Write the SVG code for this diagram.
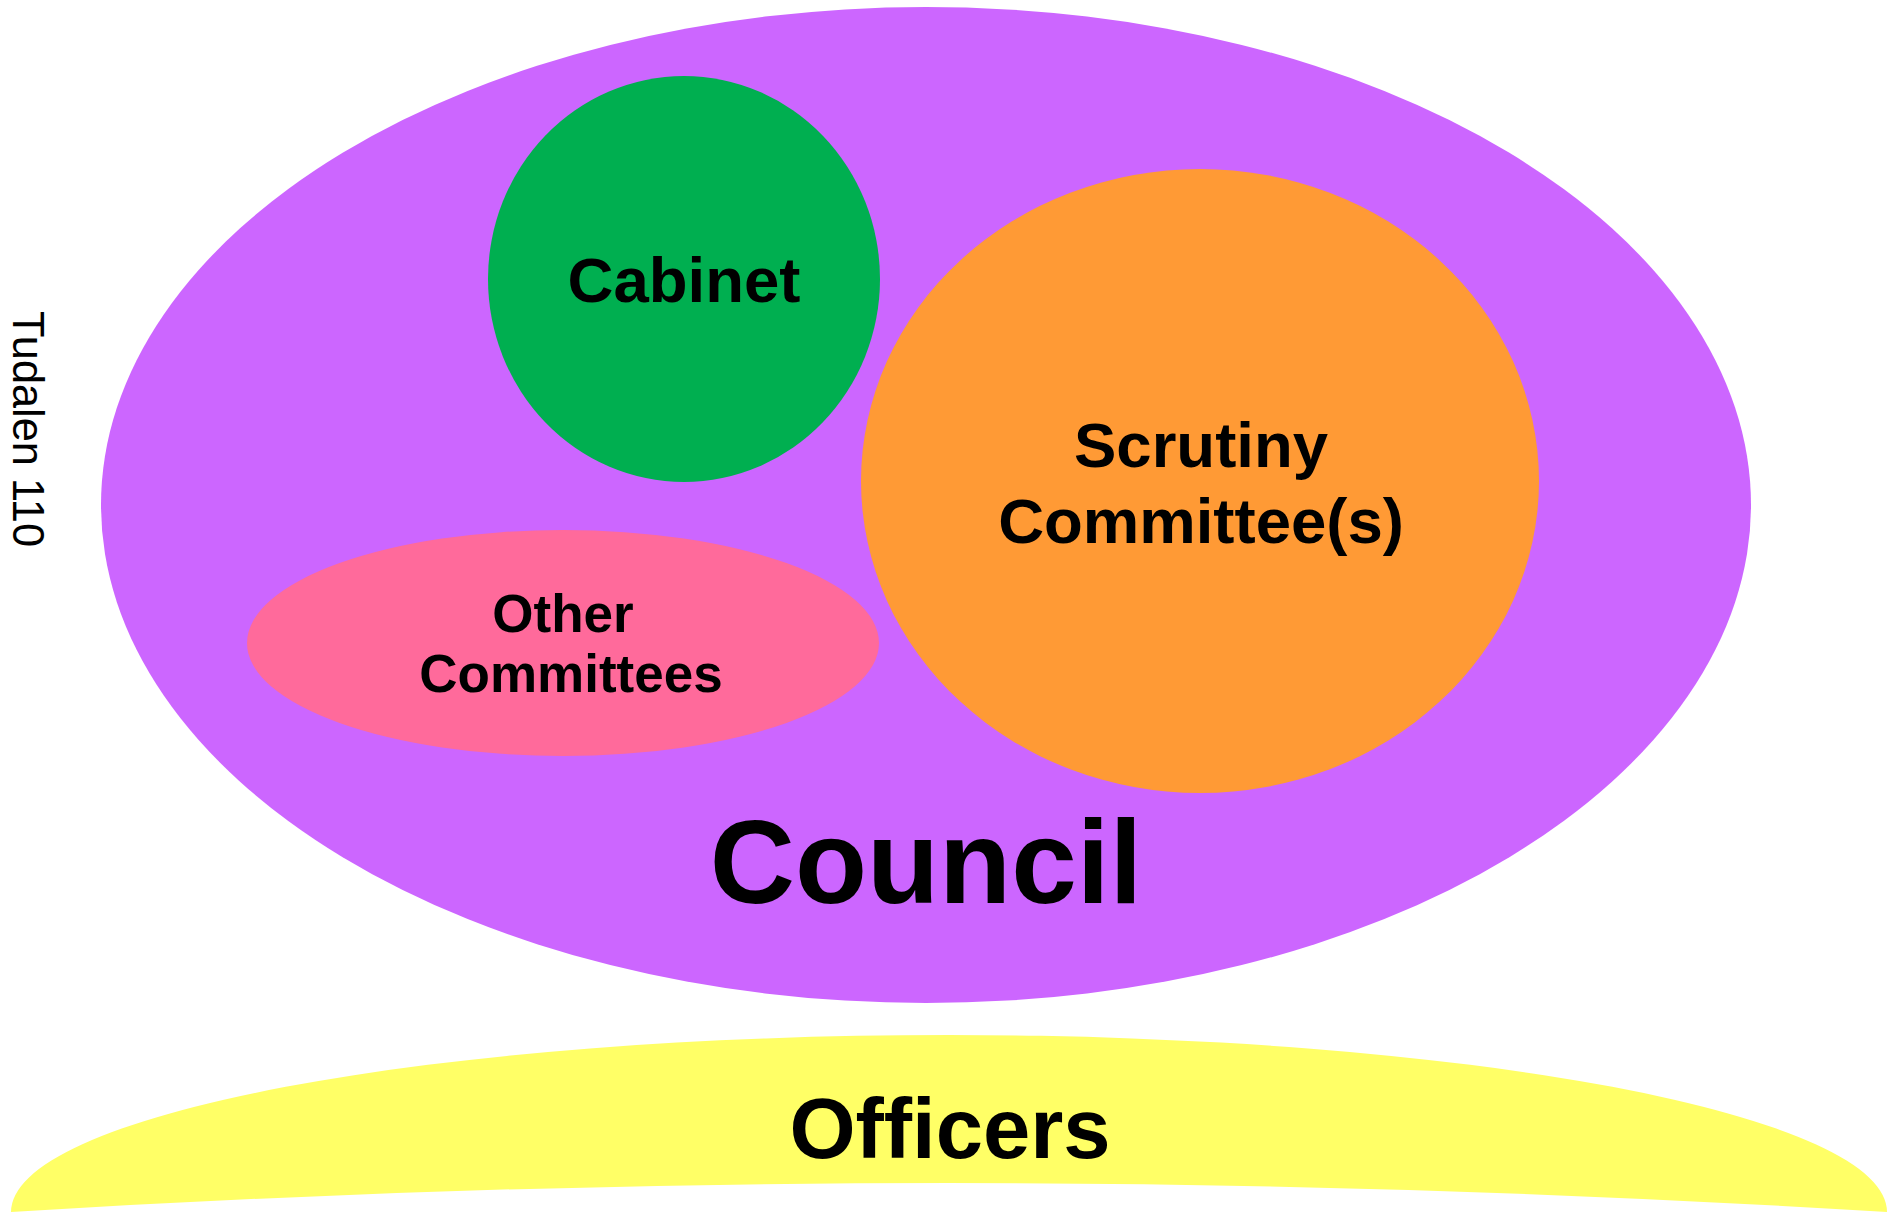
<svg xmlns="http://www.w3.org/2000/svg" width="1904" height="1212" viewBox="0 0 1904 1212">
<style>
.lbl{font-family:"Liberation Sans",Arial,Helvetica,sans-serif;font-weight:bold;fill:#000;text-anchor:middle}
.side{font-family:"Liberation Sans",Arial,Helvetica,sans-serif;fill:#000}
</style>
<rect width="1904" height="1212" fill="#fff"/>
<g id="council">
<ellipse cx="926" cy="505" rx="825" ry="498" fill="#CC66FF"/>
<text class="lbl" x="926" y="903" font-size="118">Council</text>
</g>
<g id="cabinet">
<ellipse cx="684" cy="279" rx="196" ry="203" fill="#00AF50"/>
<text class="lbl" x="684" y="302" font-size="63.5">Cabinet</text>
</g>
<g id="scrutiny">
<ellipse cx="1200" cy="481" rx="339" ry="312" fill="#FF9A35"/>
<text class="lbl" x="1201" y="467" font-size="63.5">Scrutiny</text>
<text class="lbl" x="1201" y="543" font-size="63.5">Committee(s)</text>
</g>
<g id="other">
<ellipse cx="563" cy="643" rx="316" ry="113" fill="#FF6A9B"/>
<text class="lbl" x="563" y="632" font-size="53">Other</text>
<text class="lbl" x="571" y="692" font-size="53">Committees</text>
</g>
<g id="officers">
<path d="M 11 1212 A 938 177 0 0 1 1887 1212 Q 949 1154 11 1212 Z" fill="#FFFF66"/>
<text class="lbl" x="950" y="1158" font-size="85">Officers</text>
</g>
<g id="page">
<text class="side" transform="translate(13,311) rotate(90)" font-size="44" textLength="236" lengthAdjust="spacingAndGlyphs">Tudalen 110</text>
</g>
<g id="connectors"/>
</svg>
